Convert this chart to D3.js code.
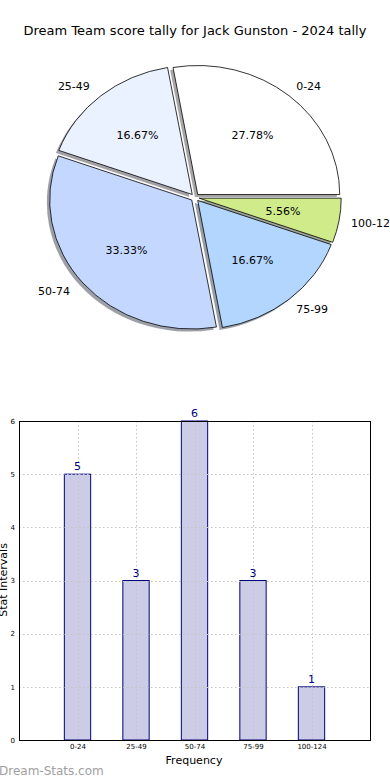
<!DOCTYPE html>
<html>
<head>
<meta charset="utf-8">
<script src="https://cdn.jsdelivr.net/npm/d3@7"></script>
<style>
  body { margin: 0; background: #fff; }
  svg { display: block; font-family: "DejaVu Sans", sans-serif; }
</style>
</head>
<body>
<svg id="chart" width="390" height="780"></svg>
<script>
// data
var categories = ["0-24", "25-49", "50-74", "75-99", "100-124"];
var counts = [5, 3, 6, 3, 1];
var sliceColors = ["#ffffff", "#eaf1ff", "#c4d8ff", "#b3d6ff", "#cfeb8a"];
var yTicks = [0, 1, 2, 3, 4, 5, 6];

var svg = d3.select("#chart");

svg.append("text")
    .attr("x", 195).attr("y", 35)
    .attr("text-anchor", "middle")
    .style("font-size", "13px")
    .text("Dream Team score tally for Jack Gunston - 2024 tally");

// ---- pie (matplotlib style: counterclockwise from east, exploded, shadow)
var cx = 195, cy = 197.5, rx = 142, ry = 129;
var explode = 0.03;
var total = d3.sum(counts);

var pie = d3.pie().sort(null)
    .startAngle(Math.PI / 2)
    .endAngle(Math.PI / 2 - 2 * Math.PI);
var arcs = pie(counts);
var arc = d3.arc().innerRadius(0).outerRadius(1);

function centre(d) {
  var a = (d.startAngle + d.endAngle) / 2;
  return [cx + explode * rx * Math.sin(a), cy - explode * ry * Math.cos(a)];
}

var g = svg.append("g");

// shadows first
g.selectAll("path.shadow")
    .data(arcs)
  .enter().append("path")
    .attr("class", "shadow")
    .attr("d", arc)
    .attr("transform", function(d){
      var c = centre(d);
      return "translate(" + (c[0] - 0.02 * rx) + "," + (c[1] + 0.02 * ry) + ") scale(" + rx + "," + ry + ")";
    })
    .style("fill", function(d, i){
      var c = d3.rgb(sliceColors[i]);
      return d3.rgb(c.r * 0.3, c.g * 0.3, c.b * 0.3);
    })
    .style("opacity", 0.5);

g.selectAll("path.slice")
    .data(arcs)
  .enter().append("path")
    .attr("class", "slice")
    .attr("d", arc)
    .attr("transform", function(d){
      var c = centre(d);
      return "translate(" + c[0] + "," + c[1] + ") scale(" + rx + "," + ry + ")";
    })
    .style("fill", function(d, i){ return sliceColors[i]; })
    .style("stroke", "#000")
    .style("stroke-width", 0.8)
    .attr("vector-effect", "non-scaling-stroke");

// category labels at 1.1 radius
g.selectAll("text.lab")
    .data(arcs)
  .enter().append("text")
    .attr("class", "lab")
    .attr("x", function(d){
      var a = (d.startAngle + d.endAngle) / 2;
      return centre(d)[0] + 1.1 * rx * Math.sin(a) - 2;
    })
    .attr("y", function(d){
      var a = (d.startAngle + d.endAngle) / 2;
      return centre(d)[1] - 1.1 * ry * Math.cos(a);
    })
    .attr("dy", "0.35em")
    .attr("text-anchor", function(d){
      var a = (d.startAngle + d.endAngle) / 2;
      return Math.sin(a) > 0 ? "start" : "end";
    })
    .style("font-size", "11px")
    .text(function(d, i){ return categories[i]; });

// percentages at 0.6 radius
g.selectAll("text.pct")
    .data(arcs)
  .enter().append("text")
    .attr("class", "pct")
    .attr("x", function(d){
      var a = (d.startAngle + d.endAngle) / 2;
      return centre(d)[0] + 0.6 * rx * Math.sin(a);
    })
    .attr("y", function(d){
      var a = (d.startAngle + d.endAngle) / 2;
      return centre(d)[1] - 0.6 * ry * Math.cos(a);
    })
    .attr("dy", "0.35em")
    .attr("text-anchor", "middle")
    .style("font-size", "11px")
    .text(function(d){ return (d.value / total * 100).toFixed(2) + "%"; });

// ---- bar chart
var plotL = 19, plotR = 370, plotT = 421, plotB = 740;
var x = d3.scaleLinear().domain([-1, categories.length]).range([plotL, plotR]);
var y = d3.scaleLinear().domain([0, 6]).range([plotB, plotT]);
var barW = 0.45;

var b = svg.append("g");

b.selectAll("rect.bar")
    .data(counts)
  .enter().append("rect")
    .attr("class", "bar")
    .attr("x", function(d, i){ return x(i - barW / 2); })
    .attr("y", function(d){ return y(d); })
    .attr("width", x(barW) - x(0))
    .attr("height", function(d){ return y(0) - y(d); })
    .style("fill", "#ccccE6")
    .style("stroke", "#000080")
    .style("stroke-width", 1);

// dotted grid, drawn over bars
b.selectAll("line.hgrid")
    .data(yTicks)
  .enter().append("line")
    .attr("x1", plotL).attr("x2", plotR)
    .attr("y1", function(d){ return Math.round(y(d)) + 0.5; })
    .attr("y2", function(d){ return Math.round(y(d)) + 0.5; })
    .style("stroke", "#c4c4c4")
    .style("stroke-dasharray", "1.5,2.5");

b.selectAll("line.vgrid")
    .data(categories)
  .enter().append("line")
    .attr("y1", plotT).attr("y2", plotB)
    .attr("x1", function(d, i){ return Math.round(x(i)) + 0.5; })
    .attr("x2", function(d, i){ return Math.round(x(i)) + 0.5; })
    .style("stroke", "#c4c4c4")
    .style("stroke-dasharray", "1.5,2.5");

b.append("rect")
    .attr("x", plotL + 0.5).attr("y", plotT + 0.5)
    .attr("width", plotR - plotL).attr("height", plotB - plotT)
    .style("fill", "none")
    .style("stroke", "#000")
    .style("stroke-width", 1);

var yAxis = d3.axisLeft(y).tickValues(yTicks).tickSize(0).tickPadding(4).tickFormat(d3.format("d"));
b.append("g")
    .attr("transform", "translate(" + plotL + ",0)")
    .call(yAxis)
    .call(function(s){ s.select(".domain").remove(); })
    .selectAll("text").style("font-size", "7px").style("font-family", "DejaVu Sans");

var xAxis = d3.axisBottom(x).tickValues(d3.range(categories.length)).tickSize(0).tickPadding(4)
    .tickFormat(function(d){ return categories[d]; });
b.append("g")
    .attr("transform", "translate(0," + plotB + ")")
    .call(xAxis)
    .call(function(s){ s.select(".domain").remove(); })
    .selectAll("text").style("font-size", "7px").style("font-family", "DejaVu Sans");

b.selectAll("text.val")
    .data(counts)
  .enter().append("text")
    .attr("class", "val")
    .attr("x", function(d, i){ return x(i); })
    .attr("y", function(d){ return y(d) - 4; })
    .attr("text-anchor", "middle")
    .style("font-size", "11px")
    .style("fill", "#000080")
    .text(function(d){ return d; });

svg.append("text")
    .attr("x", 194).attr("y", 764)
    .attr("text-anchor", "middle")
    .style("font-size", "11px")
    .text("Frequency");

svg.append("text")
    .attr("transform", "translate(7,580) rotate(-90)")
    .attr("text-anchor", "middle")
    .style("font-size", "11px")
    .text("Stat Intervals");

svg.append("text")
    .attr("x", -1).attr("y", 775)
    .style("font-size", "12px")
    .style("fill", "#a0a0a0")
    .text("Dream-Stats.com");
</script>
</body>
</html>
